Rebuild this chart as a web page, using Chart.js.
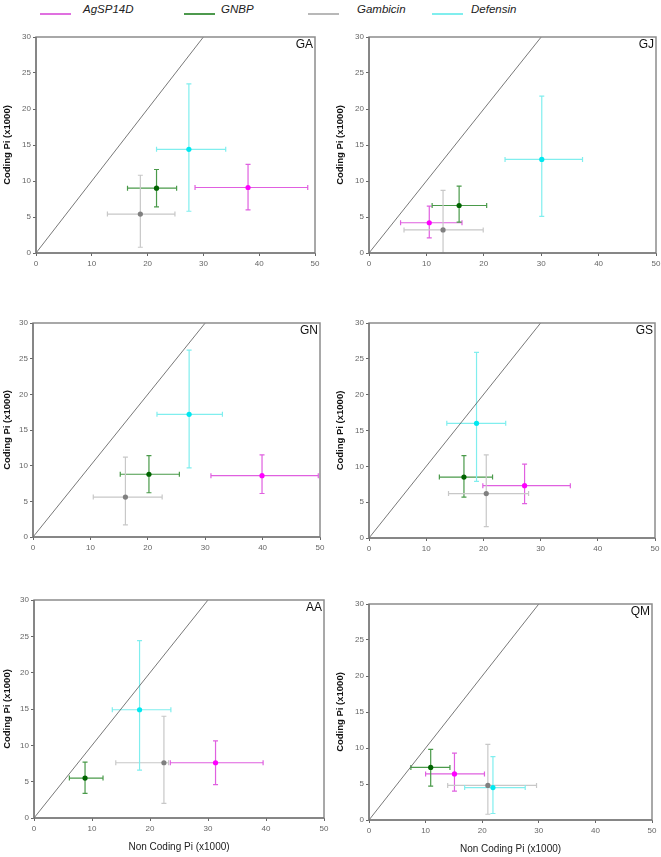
<!DOCTYPE html>
<html>
<head>
<meta charset="utf-8">
<script src="https://cdn.jsdelivr.net/npm/chart.js@4.4.1/dist/chart.umd.min.js"></script>
<style>
    body { margin: 0; background: #fff; width: 661px; height: 857px; position: relative; overflow: hidden;
           font-family: "Liberation Sans", Arial, sans-serif; }
    canvas { position: absolute; }
    .lg-line { position: absolute; top: 13px; height: 2px; width: 31px; }
    .lg-text { position: absolute; top: 3px; font-size: 11.5px; font-style: italic; color: #222; }
</style>
</head>
<body>

<div class="lg-line" style="left:40px;background:#e070e0"></div>
<div class="lg-text" style="left:83px">AgSP14D</div>
<div class="lg-line" style="left:184px;background:#4d994d"></div>
<div class="lg-text" style="left:221px">GNBP</div>
<div class="lg-line" style="left:308px;background:#b8b8b8"></div>
<div class="lg-text" style="left:357px">Gambicin</div>
<div class="lg-line" style="left:432px;background:#80eeee"></div>
<div class="lg-text" style="left:471px">Defensin</div>

<canvas id="cGA"></canvas>
<canvas id="cGJ"></canvas>
<canvas id="cGN"></canvas>
<canvas id="cGS"></canvas>
<canvas id="cAA"></canvas>
<canvas id="cQM"></canvas>

<script>
'use strict';

// ---- data (x1000) ------------------------------------------
const GENES = ['AgSP14D', 'GNBP', 'Gambicin', 'Defensin'];
const X_TICKS = [0, 10, 20, 30, 40, 50];
const Y_TICKS = [0, 5, 10, 15, 20, 25, 30];
const DIAG_X = [0, 30];
const DIAG_Y = [0, 30];

// rows per gene: [nonCodingPi, codingPi, xLow, xHigh, yLow, yHigh]
const GA = [
    [38.0,  9.1, 28.5, 48.7, 6.0, 12.3],
    [21.6,  9.0, 16.4, 25.2, 6.4, 11.6],
    [18.7,  5.4, 12.8, 24.9, 0.8, 10.8],
    [27.4, 14.4, 21.6, 34.0, 5.8, 23.5],
];
const GJ = [
    [10.5,  4.2,  5.5, 16.2, 2.1,  6.5],
    [15.7,  6.6, 11.0, 20.5, 4.3,  9.3],
    [12.9,  3.2,  6.1, 19.9, 0.0,  8.7],
    [30.1, 13.0, 23.7, 37.2, 5.1, 21.8],
];
const GN = [
    [39.9,  8.6, 31.0, 49.7, 6.1, 11.5],
    [20.2,  8.8, 15.2, 25.5, 6.2, 11.4],
    [16.1,  5.6, 10.5, 22.5, 1.7, 11.2],
    [27.2, 17.2, 21.6, 33.0, 9.7, 26.2],
];
const GS = [
    [27.2,  7.3, 19.9, 35.2, 4.8, 10.3],
    [16.6,  8.5, 12.3, 21.6, 5.7, 11.5],
    [20.5,  6.2, 13.9, 27.9, 1.6, 11.6],
    [18.8, 16.0, 13.6, 23.9, 7.9, 25.9],
];
const AA = [
    [31.3,  7.6, 23.5, 39.5, 4.6, 10.6],
    [ 8.8,  5.5,  6.1, 11.9, 3.4,  7.7],
    [22.4,  7.6, 14.1, 23.2, 2.0, 14.0],
    [18.2, 14.9, 13.5, 23.6, 6.6, 24.4],
];
const QM = [
    [15.1,  6.4, 10.0, 20.4, 4.0,  9.3],
    [10.9,  7.3,  7.4, 14.3, 4.7,  9.8],
    [21.0,  4.8, 13.9, 29.6, 0.8, 10.5],
    [21.9,  4.5, 16.9, 27.6, 0.9,  8.8],
];

// ---- styles ------------------------------------------------
const POINT_COLORS = ['#ff00ff', '#006400', '#808080', '#00e8f0'];
const BAR_COLORS   = ['#e060e0', '#4a9a4a', '#c8c8c8', '#80eeee'];

// chart area in page pixels: left, top, right, bottom, y-axis width
const PANELS = [
    { id: 'GA', rows: GA, L: 36,  T: 37,  R: 315, B: 253, W: 36, last: false },
    { id: 'GJ', rows: GJ, L: 369, T: 37,  R: 656, B: 253, W: 36, last: false },
    { id: 'GN', rows: GN, L: 33,  T: 323, R: 320, B: 537, W: 33, last: false },
    { id: 'GS', rows: GS, L: 369, T: 323, R: 655, B: 538, W: 36, last: false },
    { id: 'AA', rows: AA, L: 34,  T: 600, R: 324, B: 818, W: 34, last: true  },
    { id: 'QM', rows: QM, L: 369, T: 604, R: 652, B: 820, W: 36, last: true  },
];

const PAD_TOP = 10, PAD_RIGHT = 8;

// ---- plugins -----------------------------------------------
const errorBarPlugin = {
    id: 'errorBars',
    beforeDatasetsDraw(chart) {
        const { ctx, scales: { x, y } } = chart;
        chart.data.datasets.forEach(ds => {
            if (!ds.errorBars) return;
            ds.errorBars.forEach(e => {
                const px = x.getPixelForValue(e.x), py = y.getPixelForValue(e.y);
                const x0 = x.getPixelForValue(e.xLow), x1 = x.getPixelForValue(e.xHigh);
                const y0 = y.getPixelForValue(e.yLow), y1 = y.getPixelForValue(e.yHigh);
                const c = 2.5;
                ctx.save();
                ctx.strokeStyle = ds.barColor;
                ctx.lineWidth = 1.2;
                ctx.beginPath();
                ctx.moveTo(x0, py); ctx.lineTo(x1, py);
                ctx.moveTo(x0, py - c); ctx.lineTo(x0, py + c);
                ctx.moveTo(x1, py - c); ctx.lineTo(x1, py + c);
                ctx.moveTo(px, y0); ctx.lineTo(px, y1);
                ctx.moveTo(px - c, y0); ctx.lineTo(px + c, y0);
                ctx.moveTo(px - c, y1); ctx.lineTo(px + c, y1);
                ctx.stroke();
                ctx.restore();
            });
        });
    }
};

const framePlugin = {
    id: 'frame',
    afterDraw(chart) {
        const { ctx, chartArea: a } = chart;
        ctx.save();
        ctx.strokeStyle = '#8c8c8c';
        ctx.lineWidth = 1.5;
        ctx.strokeRect(a.left, a.top, a.right - a.left, a.bottom - a.top);
        ctx.strokeStyle = '#666';
        ctx.lineWidth = 1;
        ctx.beginPath();
        ctx.moveTo(a.left, a.top); ctx.lineTo(a.left, a.bottom); ctx.lineTo(a.right, a.bottom);
        ctx.stroke();
        // panel label
        ctx.fillStyle = '#111';
        ctx.font = '12px "Liberation Sans", Arial, sans-serif';
        ctx.textAlign = 'right';
        ctx.textBaseline = 'top';
        ctx.fillText(chart.options.plugins.frame.label, a.right - 2, a.top + 2);
        ctx.restore();
    }
};

// ---- build charts ------------------------------------------
function buildPanel(p) {
    const xAxisH = p.last ? 35 : 22;
    const cv = document.getElementById('c' + p.id);
    const left = p.L - p.W;
    cv.style.left = left + 'px';
    cv.style.top = (p.T - PAD_TOP) + 'px';
    cv.width = (p.R - p.L) + p.W + PAD_RIGHT;
    cv.height = PAD_TOP + (p.B - p.T) + xAxisH;

    const datasets = [{
        type: 'line',
        data: DIAG_X.map((v, i) => ({ x: v, y: DIAG_Y[i] })),
        borderColor: '#555',
        borderWidth: 0.8,
        pointRadius: 0,
        order: 10,
    }];
    GENES.forEach((g, i) => {
        const r = p.rows[i];
        datasets.push({
            type: 'scatter',
            label: g,
            data: [{ x: r[0], y: r[1] }],
            errorBars: [{ x: r[0], y: r[1], xLow: r[2], xHigh: r[3], yLow: r[4], yHigh: r[5] }],
            barColor: BAR_COLORS[i],
            backgroundColor: POINT_COLORS[i],
            borderWidth: 0,
            pointRadius: 2.6,
            order: 1,
        });
    });

    const tickFont = { family: '"Liberation Sans", Arial, sans-serif', size: 8 };

    new Chart(cv, {
        data: { datasets },
        plugins: [errorBarPlugin, framePlugin],
        options: {
            responsive: false,
            animation: false,
            devicePixelRatio: 1,
            layout: { padding: { top: PAD_TOP, right: PAD_RIGHT, left: 0, bottom: 0 } },
            plugins: {
                legend: { display: false },
                tooltip: { enabled: false },
                frame: { label: p.id },
            },
            scales: {
                x: {
                    type: 'linear', min: 0, max: 50,
                    afterBuildTicks: s => { s.ticks = X_TICKS.map(v => ({ value: v })); },
                    ticks: { font: tickFont, color: '#666', padding: 3, maxRotation: 0 },
                    grid: { drawOnChartArea: false, drawTicks: true, tickLength: 3, color: '#666' },
                    border: { display: false },
                    title: {
                        display: p.last,
                        text: 'Non Coding Pi (x1000)',
                        font: { family: '"Liberation Sans", Arial, sans-serif', size: 10 },
                        color: '#222',
                        padding: { top: 5, bottom: 0 },
                    },
                    afterFit: s => { s.height = xAxisH; },
                },
                y: {
                    type: 'linear', min: 0, max: 30,
                    afterBuildTicks: s => { s.ticks = Y_TICKS.map(v => ({ value: v })); },
                    ticks: { font: tickFont, color: '#666', padding: 2 },
                    grid: { drawOnChartArea: false, drawTicks: true, tickLength: 3, color: '#666' },
                    border: { display: false },
                    title: {
                        display: true,
                        text: 'Coding Pi (x1000)',
                        font: { family: '"Liberation Sans", Arial, sans-serif', size: 9.5, weight: 'bold' },
                        color: '#111',
                        padding: { top: 2, bottom: 0 },
                    },
                    afterFit: s => { s.width = p.W; },
                },
            },
        },
    });
}

PANELS.forEach(buildPanel);
</script>
</body>
</html>
